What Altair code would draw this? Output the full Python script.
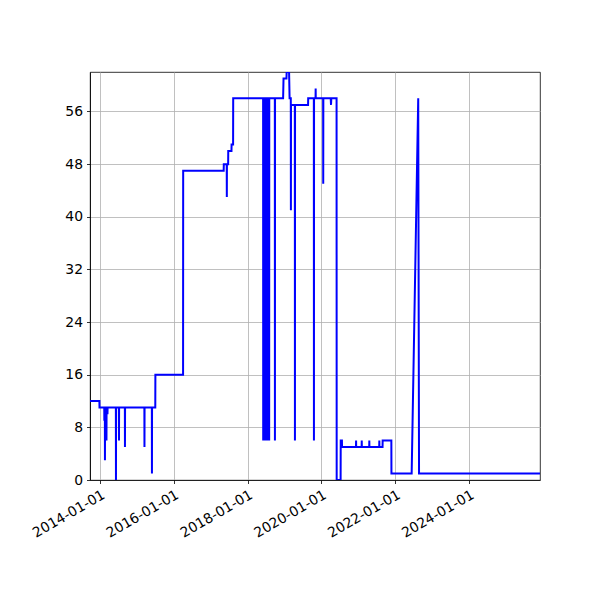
import altair as alt
import pandas as pd

dates = [
    "2013-09-24", "2013-12-26", "2013-12-27",
    "2014-02-12", "2014-02-13", "2014-02-14",
    "2014-02-18", "2014-02-19", "2014-02-20",
    "2014-03-05", "2014-03-06", "2014-03-07",
    "2014-03-15", "2014-03-16", "2014-03-17",
    "2014-06-07", "2014-06-08", "2014-06-09",
    "2014-07-07", "2014-07-08", "2014-07-09",
    "2014-09-04", "2014-09-05", "2014-09-06",
    "2015-03-16", "2015-03-17", "2015-03-18",
    "2015-05-29", "2015-05-30", "2015-05-31",
    "2015-07-02", "2015-07-03",
    "2016-04-02", "2016-04-03",
    "2017-05-09", "2017-05-10",
    "2017-06-08", "2017-06-09", "2017-06-10",
    "2017-06-22", "2017-06-23",
    "2017-07-25", "2017-07-26",
    "2017-08-10", "2017-08-11",
    "2018-06-03", "2018-06-04", "2018-06-05",
    "2018-06-13", "2018-06-14", "2018-06-15",
    "2018-06-23", "2018-06-24", "2018-06-25",
    "2018-07-03", "2018-07-04", "2018-07-05",
    "2018-07-13", "2018-07-14", "2018-07-15",
    "2018-07-23", "2018-07-24", "2018-07-25",
    "2018-08-01", "2018-08-02", "2018-08-03",
    "2018-09-27", "2018-09-28", "2018-09-29",
    "2018-12-18", "2018-12-22",
    "2019-01-20", "2019-01-22",
    "2019-02-15", "2019-02-20",
    "2019-03-04", "2019-03-05", "2019-03-06",
    "2019-04-13", "2019-04-14", "2019-04-15",
    "2019-08-22", "2019-08-23",
    "2019-10-18", "2019-10-19", "2019-10-20",
    "2019-11-04", "2019-11-05", "2019-11-06",
    "2020-01-18", "2020-01-19", "2020-01-20",
    "2020-04-02", "2020-04-05", "2020-04-08",
    "2020-05-30", "2020-05-31",
    "2020-07-09", "2020-07-10",
    "2020-07-22", "2020-07-23",
    "2020-12-08", "2020-12-09", "2020-12-10",
    "2021-02-02", "2021-02-03", "2021-02-04",
    "2021-04-18", "2021-04-19", "2021-04-20",
    "2021-07-26", "2021-07-27", "2021-07-28",
    "2021-08-28", "2021-08-29",
    "2021-11-23", "2021-11-24",
    "2022-06-12", "2022-08-16", "2022-08-24",
    "2025-12-03",
]
values = [
    12, 12, 11,
    11, 9, 11,
    11, 3, 11,
    11, 6, 11,
    11, 10, 11,
    11, 0, 11,
    11, 6, 11,
    11, 5, 11,
    11, 5, 11,
    11, 1, 11,
    11, 16,
    16, 47,
    47, 48,
    48, 43, 48,
    48, 50,
    50, 51,
    51, 58,
    58, 6, 58,
    58, 6, 58,
    58, 6, 58,
    58, 6, 58,
    58, 6, 58,
    58, 6, 58,
    58, 6, 58,
    58, 6, 58,
    58, 61,
    61, 62,
    62, 58,
    58, 41, 57,
    57, 6, 57,
    57, 58,
    58, 6, 58,
    58, 59.5, 58,
    58, 45, 58,
    58, 57, 58,
    58, 0,
    0, 6,
    6, 5,
    5, 6, 5,
    5, 6, 5,
    5, 6, 5,
    5, 6, 5,
    5, 6,
    6, 1,
    1, 58, 1,
    1,
]

y_ticks = [0, 8, 16, 24, 32, 40, 48, 56]
x_tick_years = [2014, 2016, 2018, 2020, 2022, 2024]

df = pd.DataFrame({"date": dates, "value": values})

FONT = "DejaVu Sans"

chart = (
    alt.Chart(df)
    .mark_line(color="#0000ff", strokeWidth=2, clip=True)
    .encode(
        x=alt.X(
            "date:T",
            scale=alt.Scale(type="utc", nice=False),
            axis=alt.Axis(
                values=[alt.DateTime(year=y, month=1, date=1, utc=True) for y in x_tick_years],
                format="%Y-%m-%d",
                labelAngle=330,
                labelAlign="right",
                labelBaseline="top",
                title=None,
            ),
        ),
        y=alt.Y(
            "value:Q",
            scale=alt.Scale(domain=[0, 62], nice=False, zero=True),
            axis=alt.Axis(values=y_ticks, title=None),
        ),
    )
    .properties(
        width=450,
        height=408,
        autosize=alt.AutoSizeParams(type="none"),
        padding={"left": 82, "top": 64, "right": 30, "bottom": 90},
    )
    .configure_view(stroke="black", strokeWidth=0.8)
    .configure_axis(
        grid=True,
        gridColor="#b0b0b0",
        gridWidth=0.8,
        domainColor="black",
        domainWidth=0.8,
        tickColor="black",
        tickSize=3.5,
        tickWidth=0.8,
        labelFont=FONT,
        labelFontSize=13.9,
        labelColor="black",
        labelPadding=4,
        labelFlush=False,
        labelOverlap=False,
    )
)

chart.save("out.html", embed_options={"renderer": "svg", "actions": False})
